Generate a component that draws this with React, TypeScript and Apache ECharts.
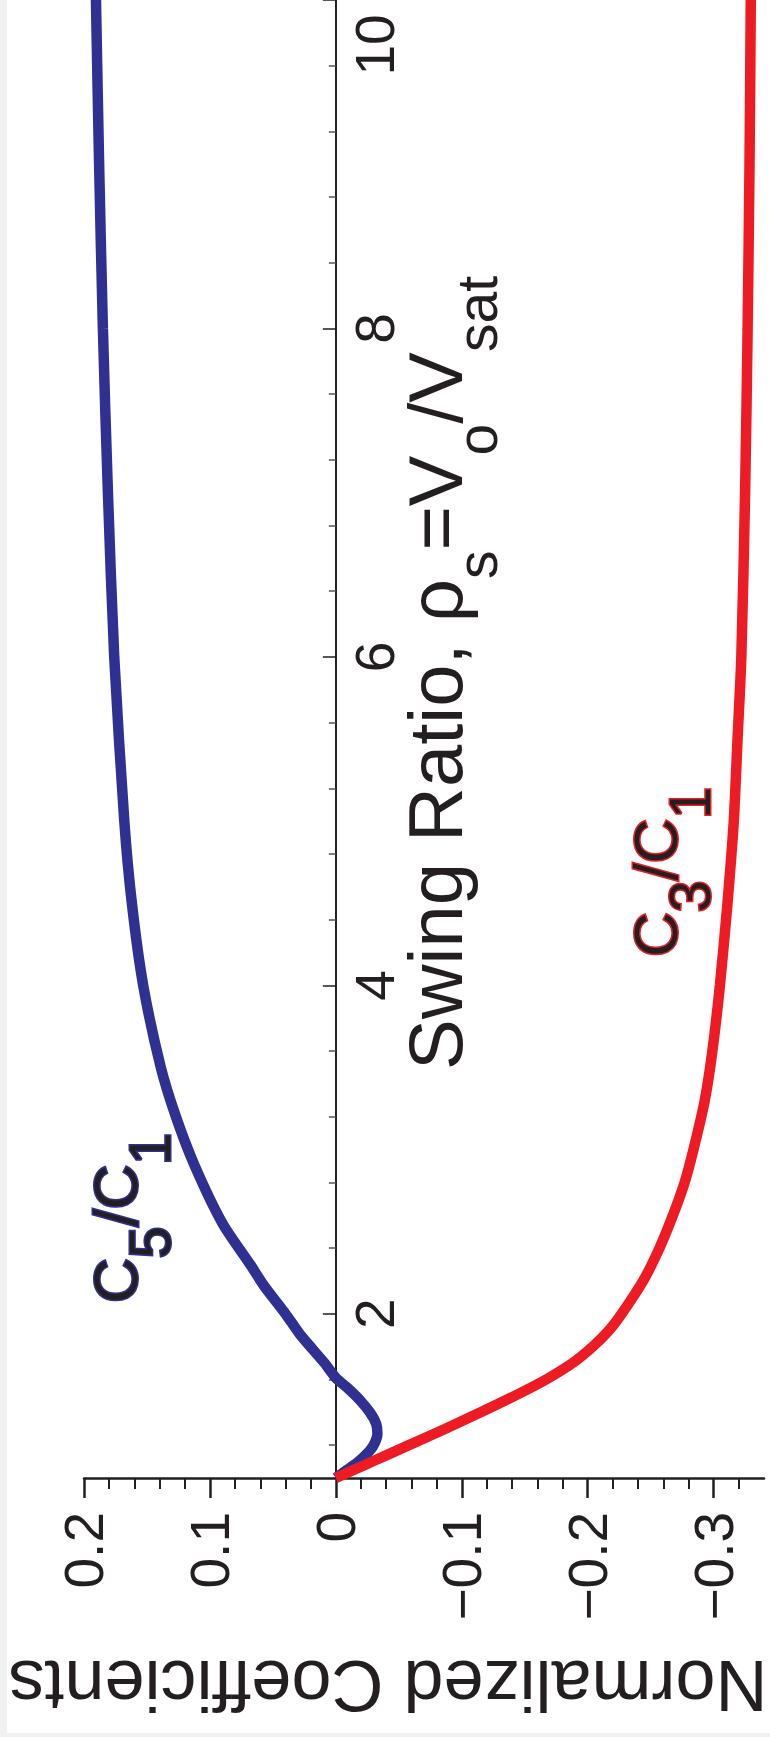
import React, { useEffect, useRef } from "react";
import * as echarts from "echarts";

// Swing ratio values (rho_s = Vo/Vsat) and normalized harmonic coefficients
const rhoC3 = [1.0, 1.05, 1.1, 1.2, 1.3, 1.4, 1.5, 1.6, 1.7, 1.8, 1.9, 2.0, 2.2, 2.4, 2.6, 2.8, 3.0, 3.3, 3.6, 4.0, 4.5, 5.0, 5.5, 6.0, 7.0, 8.0, 9.0, 10.0];
const c3OverC1 = [0, -0.0145, -0.029, -0.058, -0.087, -0.115, -0.142, -0.167, -0.188, -0.204, -0.217, -0.227, -0.244, -0.257, -0.2677, -0.277, -0.284, -0.293, -0.299, -0.305, -0.311, -0.316, -0.319, -0.322, -0.325, -0.327, -0.3285, -0.3295];

const rhoC5 = [1.0, 1.05, 1.1, 1.15, 1.2, 1.27, 1.33, 1.4, 1.475, 1.55, 1.61, 1.7, 1.78, 1.88, 2.0, 2.17, 2.3, 2.55, 2.9, 3.2, 3.5, 4.0, 4.5, 5.0, 6.0, 7.0, 8.0, 9.0, 10.0];
const c5OverC1 = [0, -0.009, -0.018, -0.025, -0.03, -0.033, -0.032, -0.027, -0.019, -0.009, 0.0, 0.009, 0.018, 0.029, 0.04, 0.057, 0.068, 0.09, 0.112, 0.127, 0.139, 0.153, 0.162, 0.168, 0.176, 0.181, 0.185, 0.188, 0.1905];

// Tick labels / positions
const coefMajorTicks = [0.2, 0.1, 0, -0.1, -0.2, -0.3];
const coefMinorTicks = [0.18, 0.16, 0.14, 0.12, 0.08, 0.06, 0.04, 0.02, -0.02, -0.04, -0.06, -0.08, -0.12, -0.14, -0.16, -0.18, -0.22, -0.24, -0.26, -0.28, -0.32];
const rhoMajorTicks = [2, 4, 6, 8, 10];
const rhoMinorTicks = [1.2, 1.6, 2.4, 2.8, 3.2, 3.6, 4.4, 4.8, 5.2, 5.6, 6.4, 6.8, 7.2, 7.6, 8.4, 8.8, 9.2, 9.6];

const COEF_MIN = -0.34;
const COEF_MAX = 0.2;
const RHO_MIN = 1;
const RHO_MAX = 10;

const FONT = "'Liberation Sans', Arial, Helvetica, sans-serif";
const INK = "#231f20";
const BLUE = "#2e3192";
const RED = "#ed1c24";

const CHART_W = 763;
const CHART_H = 1733;
const GRID = { left: 77, right: 6, top: 0, bottom: 255 };

function coefLabel(v: number): string {
  if (Math.abs(v) < 1e-9) return "0";
  return (v < 0 ? "\u2212" : "") + Math.abs(v).toFixed(1);
}

function buildOption(): any {
  const coefRange = { min: COEF_MIN, max: COEF_MAX, inverse: true };
  const rhoRange = { min: RHO_MIN, max: RHO_MAX };
  const gridW = CHART_W - GRID.left - GRID.right;
  // place the swing-ratio axis where the coefficient is zero
  const zeroOffset = -gridW * (COEF_MAX - 0) / (COEF_MAX - COEF_MIN);
  return {
    animation: false,
    backgroundColor: "#ffffff",
    grid: { ...GRID, containLabel: false },
    xAxis: [
      {
        type: "value",
        ...coefRange,
        position: "bottom",
        axisLine: { show: true, onZero: false, lineStyle: { color: INK, width: 2.5 } },
        axisTick: { show: true, customValues: coefMajorTicks, length: 20, lineStyle: { color: INK, width: 2.5 } },
        axisLabel: {
          show: true,
          customValues: coefMajorTicks,
          rotate: 90,
          margin: 34,
          fontSize: 55,
          fontFamily: FONT,
          color: INK,
          showMinLabel: true,
          showMaxLabel: true,
          formatter: (v: number) => coefLabel(v),
        },
        splitLine: { show: false },
      },
      {
        type: "value",
        ...coefRange,
        position: "bottom",
        axisLine: { show: false, onZero: false },
        axisTick: { show: true, customValues: coefMinorTicks, length: 11, lineStyle: { color: INK, width: 2 } },
        axisLabel: { show: false },
        splitLine: { show: false },
      },
    ],
    yAxis: [
      {
        type: "value",
        ...rhoRange,
        position: "left",
        offset: zeroOffset,
        axisLine: { show: true, onZero: false, lineStyle: { color: INK, width: 2 } },
        axisTick: { show: true, inside: false, customValues: rhoMajorTicks, length: 13, lineStyle: { color: INK, width: 1.5 } },
        axisLabel: {
          show: true,
          inside: true,
          customValues: rhoMajorTicks,
          rotate: 90,
          margin: 12,
          fontSize: 55,
          fontFamily: FONT,
          color: INK,
          showMinLabel: true,
          showMaxLabel: true,
          formatter: (v: number) => (v === 10 ? "{end|10}" : String(v)),
          rich: {
            end: { fontSize: 55, fontFamily: FONT, color: INK, padding: [0, 90, 0, 0] },
          },
        },
        splitLine: { show: false },
      },
      {
        type: "value",
        ...rhoRange,
        position: "left",
        offset: zeroOffset,
        axisLine: { show: false, onZero: false },
        axisTick: { show: true, inside: false, customValues: rhoMinorTicks, length: 7, lineStyle: { color: "#555", width: 1.5 } },
        axisLabel: { show: false },
        splitLine: { show: false },
      },
    ],
    series: [
      {
        name: "C5/C1",
        type: "line",
        xAxisIndex: 0,
        yAxisIndex: 0,
        data: rhoC5.map((r, i) => [c5OverC1[i], r]),
        showSymbol: false,
        smooth: 0.25,
        lineStyle: { color: BLUE, width: 10.5 },
        z: 3,
      },
      {
        name: "C3/C1",
        type: "line",
        xAxisIndex: 0,
        yAxisIndex: 0,
        data: rhoC3.map((r, i) => [c3OverC1[i], r]),
        showSymbol: false,
        smooth: 0.25,
        lineStyle: { color: RED, width: 10.5 },
        z: 4,
      },
    ],
    graphic: [
      {
        type: "text",
        x: 428,
        y: 673,
        rotation: Math.PI / 2,
        style: {
          text: "Swing Ratio, \u03c1{s|s}=V{s|o}/V{s|sat}",
          fontSize: 76,
          fontFamily: FONT,
          fill: INK,
          align: "center",
          verticalAlign: "middle",
          rich: {
            s: { fontSize: 57, fontFamily: FONT, fill: INK, padding: [84, 0, 0, 0] },
          },
        },
      },
      {
        type: "text",
        x: 381,
        y: 1686,
        rotation: Math.PI,
        style: {
          text: "Normalized Coefficients",
          fontSize: 72,
          fontFamily: FONT,
          fill: INK,
          align: "center",
          verticalAlign: "middle",
        },
      },
      {
        type: "text",
        x: 108,
        y: 1218,
        rotation: Math.PI / 2,
        style: {
          text: "C{s|5}/C{s|1}",
          fontSize: 62,
          fontFamily: FONT,
          fill: INK,
          stroke: BLUE,
          lineWidth: 3,
          align: "center",
          verticalAlign: "middle",
          rich: {
            s: { fontSize: 57, fontFamily: FONT, fill: INK, stroke: BLUE, lineWidth: 3, padding: [70, 0, 0, 0] },
          },
        },
      },
      {
        type: "text",
        x: 648,
        y: 872,
        rotation: Math.PI / 2,
        style: {
          text: "C{s|3}/C{s|1}",
          fontSize: 62,
          fontFamily: FONT,
          fill: INK,
          stroke: RED,
          lineWidth: 3,
          align: "center",
          verticalAlign: "middle",
          rich: {
            s: { fontSize: 57, fontFamily: FONT, fill: INK, stroke: RED, lineWidth: 3, padding: [70, 0, 0, 0] },
          },
        },
      },
    ],
  };
}

export default function App() {
  const ref = useRef<HTMLDivElement>(null);
  useEffect(() => {
    if (!ref.current) return;
    const chart = echarts.init(ref.current, undefined, { renderer: "svg" });
    chart.setOption(buildOption());
    return () => {
      chart.dispose();
    };
  }, []);
  return (
    <div
      style={{
        position: "absolute",
        left: 0,
        top: 0,
        width: 770,
        height: 1737,
        background: "#f1f1f1",
        overflow: "hidden",
      }}
    >
      <div
        ref={ref}
        style={{ position: "absolute", left: 7, top: 0, width: CHART_W, height: CHART_H, background: "#ffffff" }}
      />
    </div>
  );
}
